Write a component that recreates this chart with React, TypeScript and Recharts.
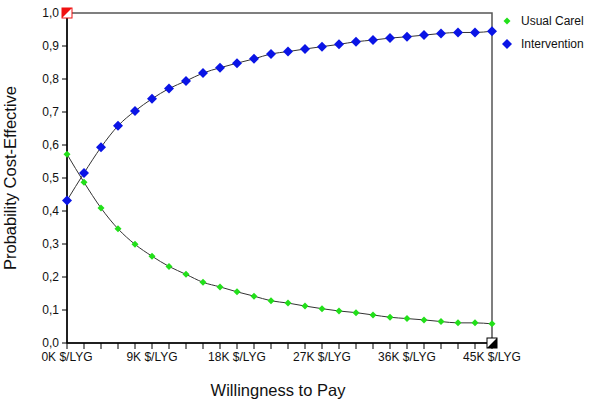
import {
  LineChart,
  Line,
  XAxis,
  YAxis,
  ReferenceArea,
  ReferenceDot,
} from 'recharts'

const wtp = [
  0, 1800, 3600, 5400, 7200, 9000, 10800, 12600, 14400, 16200, 18000, 19800, 21600,
  23400, 25200, 27000, 28800, 30600, 32400, 34200, 36000, 37800, 39600, 41400, 43200, 45000,
]
const usualCare = [
  0.572, 0.487, 0.409, 0.346, 0.299, 0.263, 0.232, 0.208, 0.184, 0.17, 0.155, 0.142, 0.128,
  0.121, 0.112, 0.104, 0.097, 0.092, 0.085, 0.078, 0.074, 0.07, 0.065, 0.061, 0.061, 0.058,
]
const intervention = [
  0.432, 0.515, 0.593, 0.658, 0.703, 0.74, 0.771, 0.794, 0.818, 0.834, 0.848, 0.861, 0.876,
  0.883, 0.891, 0.898, 0.905, 0.913, 0.918, 0.924, 0.928, 0.933, 0.938, 0.941, 0.941, 0.945,
]
const xTicks = wtp
const yTicks = [0, 0.1, 0.2, 0.3, 0.4, 0.5, 0.6, 0.7, 0.8, 0.9, 1.0]

const FONT = '"Liberation Sans", Arial, sans-serif'
const GREEN = '#22e01a'
const BLUE = '#0a14e6'

const data = wtp.map((w, i) => ({ wtp: w, usual: usualCare[i], intervention: intervention[i] }))

function Diamond({ cx, cy, r, fill }: { cx?: number; cy?: number; r: number; fill: string }) {
  if (cx == null || cy == null) return null
  return (
    <polygon
      points={`${cx},${cy - r} ${cx + r},${cy} ${cx},${cy + r} ${cx - r},${cy}`}
      fill={fill}
    />
  )
}

function LegendBox() {
  const item = (label: string, color: string, r: number) => (
    <div style={{ display: 'flex', alignItems: 'center', height: 23 }}>
      <svg width={14} height={14} style={{ marginRight: 7 }}>
        <Diamond cx={7} cy={7} r={r} fill={color} />
      </svg>
      <span>{label}</span>
    </div>
  )
  return (
    <div style={{ position: 'absolute', left: 500, top: 9, fontFamily: FONT, fontSize: 12, color: '#111' }}>
      {item('Usual Carel', GREEN, 3.5)}
      {item('Intervention', BLUE, 5)}
    </div>
  )
}

function CornerMark({ cx, cy, color, topLeftFilled }: any) {
  const s = 10
  const x = cx - s / 2
  const y = cy - s / 2
  const pts = topLeftFilled
    ? `${x},${y} ${x + s},${y} ${x},${y + s}`
    : `${x + s},${y} ${x + s},${y + s} ${x},${y + s}`
  return (
    <g>
      <rect x={x} y={y} width={s} height={s} fill="#fff" stroke={color} strokeWidth={1} />
      <polygon points={pts} fill={color} />
    </g>
  )
}

export default function App() {
  return (
    <div style={{ position: 'absolute', left: 0, top: 0, width: 600, height: 405, background: '#fff' }}>
      <LineChart
        width={600}
        height={405}
        data={data}
        margin={{ top: 13, right: 108, left: 0, bottom: 0 }}
      >
        <ReferenceArea x1={0} x2={45000} y1={0} y2={1} fill="none" stroke="#555" strokeWidth={1.5} ifOverflow="visible" />
        <XAxis
          dataKey="wtp"
          type="number"
          domain={[0, 45000]}
          ticks={xTicks}
          interval={0}
          height={62}
          tickSize={6}
          tickMargin={3}
          tickLine={{ stroke: '#000' }}
          axisLine={{ stroke: '#000', strokeWidth: 1.5 }}
          tick={{ fontSize: 12, fill: '#111', fontFamily: FONT }}
          tickFormatter={(v: number) => (v % 9000 === 0 ? `${v / 1000}K $/LYG` : '')}
          label={{
            content: () => (
              <text x={278} y={396} textAnchor="middle" fontSize={16.5} fill="#111" fontFamily={FONT}>
                Willingness to Pay
              </text>
            ),
          }}
        />
        <YAxis
          type="number"
          domain={[0, 1]}
          ticks={yTicks}
          width={67}
          tickSize={5}
          tickMargin={3}
          tickLine={{ stroke: '#000' }}
          axisLine={{ stroke: '#000', strokeWidth: 1.5 }}
          tick={{ fontSize: 12, fill: '#111', fontFamily: FONT }}
          tickFormatter={(v: number) => v.toFixed(1).replace('.', ',')}
          label={{
            content: () => (
              <text
                x={16}
                y={178}
                transform="rotate(-90 16 178)"
                textAnchor="middle"
                fontSize={16.5}
                fill="#111"
                fontFamily={FONT}
              >
                Probability Cost-Effective
              </text>
            ),
          }}
        />
        <Line
          type="monotone"
          dataKey="usual"
          stroke="#333"
          strokeWidth={1}
          isAnimationActive={false}
          dot={(p: any) => <Diamond key={`u${p.index}`} cx={p.cx} cy={p.cy} r={3.5} fill={GREEN} />}
          activeDot={false}
        />
        <Line
          type="monotone"
          dataKey="intervention"
          stroke="#333"
          strokeWidth={1}
          isAnimationActive={false}
          dot={(p: any) => <Diamond key={`i${p.index}`} cx={p.cx} cy={p.cy} r={5} fill={BLUE} />}
          activeDot={false}
        />
        <ReferenceDot
          x={0}
          y={1}
          ifOverflow="visible"
          shape={(p: any) => <CornerMark cx={p.cx} cy={p.cy} color="#f01010" topLeftFilled />}
        />
        <ReferenceDot
          x={45000}
          y={0}
          ifOverflow="visible"
          shape={(p: any) => <CornerMark cx={p.cx} cy={p.cy} color="#000" topLeftFilled={false} />}
        />
      </LineChart>
      <LegendBox />
    </div>
  )
}
